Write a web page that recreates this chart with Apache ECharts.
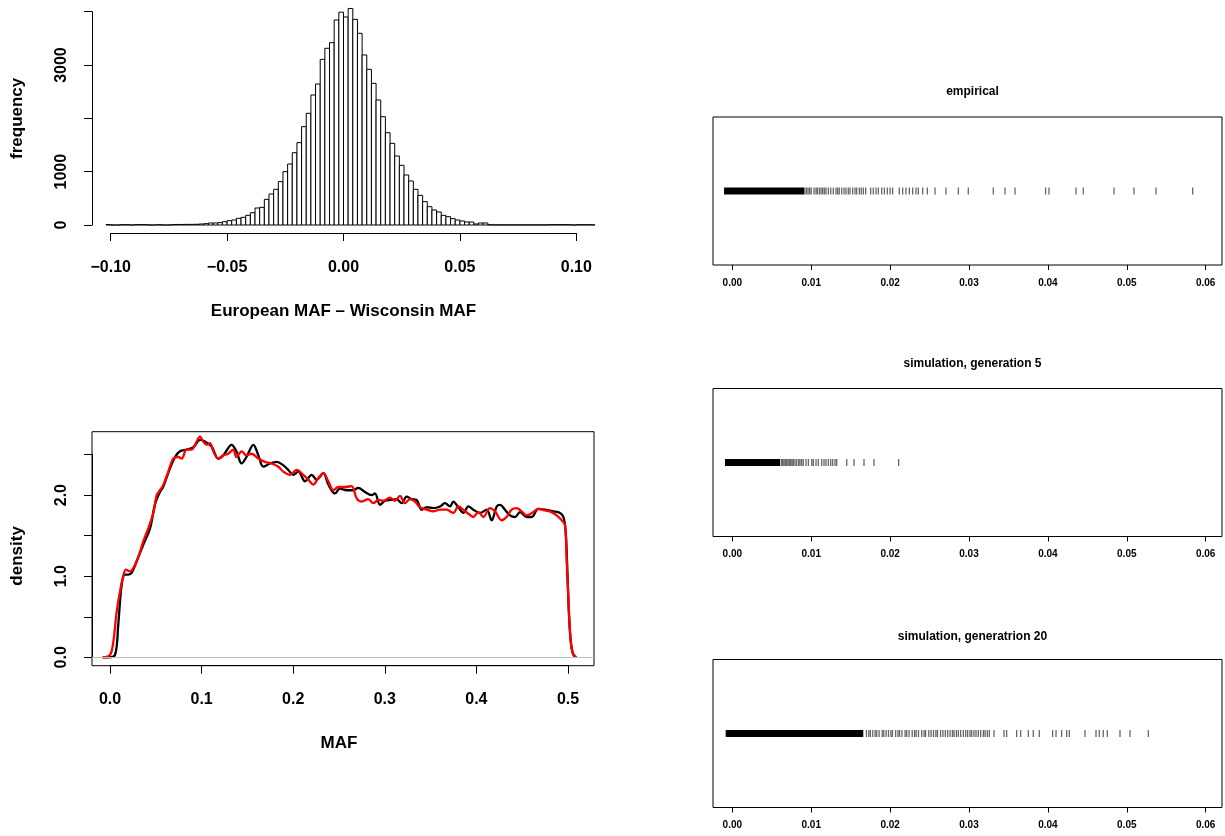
<!DOCTYPE html>
<html>
<head>
<meta charset="utf-8">
<title>MAF comparison</title>
<script src="https://cdn.jsdelivr.net/npm/echarts@6/dist/echarts.min.js"></script>
<style>
  html, body { margin: 0; padding: 0; background: #ffffff; }
  #chart { width: 1225px; height: 836px; }
</style>
</head>
<body>
<div id="chart"></div>
<script>
// ---- Histogram of MAF differences (European - Wisconsin) ----
const histBinStart = -0.102;
const histBinWidth = 0.002;
const histCounts = [
  8, 0, 0, 6, 6, 0, 6, 8, 6, 0,
  0, 6, 0, 0, 8, 10, 10, 12, 12, 14,
  19, 25, 38, 38, 44, 62, 81, 94, 125, 144,
  181, 231, 319, 331, 481, 581, 669, 813, 1000, 1144,
  1356, 1544, 1844, 2094, 2438, 2644, 3106, 3313, 3419, 3844,
  3990, 3900, 4060, 3856, 3594, 3188, 2919, 2656, 2344, 2031,
  1731, 1531, 1294, 1119, 938, 825, 669, 556, 438, 344,
  281, 244, 181, 156, 119, 94, 75, 56, 56, 19,
  38, 38, 5, 3, 3, 2, 3, 2, 2, 2,
  2, 2, 2, 3, 3, 6, 6, 6, 6, 6,
  0, 6, 6, 6, 4
];
const histYLabelled = [0, 1000, 3000];

// ---- Kernel density of MAF, two sources ----
const mafDensityObserved = [
  [-0.008, 0], [-0.002, 0], [0.0055, 0.03], [0.009, 0.40], [0.0127, 0.89],
  [0.0164, 1.02], [0.020, 1.02], [0.0237, 1.04], [0.029, 1.18], [0.0364, 1.39],
  [0.0437, 1.59], [0.049, 1.88], [0.0546, 2.04], [0.058, 2.10], [0.0655, 2.33],
  [0.071, 2.47], [0.0764, 2.54], [0.0837, 2.56], [0.091, 2.59], [0.0983, 2.68],
  [0.1037, 2.66], [0.111, 2.60], [0.1182, 2.45], [0.1237, 2.49], [0.1328, 2.62],
  [0.138, 2.54], [0.1437, 2.39], [0.149, 2.47], [0.1565, 2.62], [0.162, 2.49],
  [0.1674, 2.35], [0.1747, 2.39], [0.182, 2.41], [0.189, 2.37], [0.1947, 2.31],
  [0.200, 2.25], [0.2056, 2.29], [0.2129, 2.17], [0.2202, 2.25], [0.2256, 2.19],
  [0.233, 2.27], [0.2384, 2.13], [0.2456, 2.02], [0.251, 2.08], [0.2584, 2.06],
  [0.2656, 2.06], [0.271, 2.09], [0.278, 2.04], [0.2857, 2.00], [0.2893, 2.02],
  [0.2948, 1.88], [0.3002, 1.93], [0.3075, 1.94], [0.313, 1.95], [0.3184, 1.90],
  [0.3239, 1.98], [0.3293, 1.95], [0.3348, 1.94], [0.3402, 1.82], [0.3457, 1.85],
  [0.353, 1.84], [0.3603, 1.86], [0.3657, 1.90], [0.3712, 1.86], [0.3748, 1.92],
  [0.3803, 1.85], [0.3858, 1.78], [0.3913, 1.86], [0.3967, 1.82], [0.404, 1.78],
  [0.4112, 1.82], [0.4167, 1.69], [0.4222, 1.86], [0.4258, 1.88], [0.4312, 1.82],
  [0.4367, 1.75], [0.4422, 1.73], [0.4476, 1.79], [0.455, 1.73], [0.4603, 1.73],
  [0.4676, 1.83], [0.475, 1.82], [0.484, 1.80], [0.4913, 1.78], [0.495, 1.73],
  [0.4975, 1.55], [0.4995, 1.00], [0.501, 0.55], [0.503, 0.20], [0.5055, 0.04],
  [0.509, 0]
];
const mafDensitySimulated = [
  [-0.008, 0], [0.000, 0.03], [0.0036, 0.19], [0.0073, 0.56], [0.0109, 0.81],
  [0.0146, 1.01], [0.0175, 1.08], [0.0218, 1.06], [0.0255, 1.10], [0.031, 1.24],
  [0.0364, 1.43], [0.0418, 1.59], [0.0473, 1.78], [0.051, 2.00], [0.0546, 2.06],
  [0.058, 2.12], [0.0637, 2.29], [0.069, 2.45], [0.0746, 2.47], [0.0782, 2.45],
  [0.0837, 2.56], [0.0892, 2.56], [0.0928, 2.62], [0.0983, 2.72], [0.1019, 2.66],
  [0.1055, 2.62], [0.109, 2.64], [0.1128, 2.54], [0.1182, 2.45], [0.1237, 2.49],
  [0.129, 2.51], [0.1346, 2.56], [0.138, 2.47], [0.1437, 2.54], [0.149, 2.49],
  [0.1546, 2.51], [0.162, 2.45], [0.169, 2.41], [0.1765, 2.39], [0.1838, 2.35],
  [0.189, 2.29], [0.1965, 2.25], [0.2038, 2.31], [0.211, 2.25], [0.2165, 2.19],
  [0.222, 2.13], [0.2274, 2.21], [0.2329, 2.27], [0.2384, 2.17], [0.2438, 2.06],
  [0.2493, 2.10], [0.2566, 2.10], [0.2638, 2.11], [0.2693, 1.96], [0.2748, 1.92],
  [0.282, 1.95], [0.2875, 1.90], [0.293, 1.94], [0.2984, 1.93], [0.3057, 1.97],
  [0.311, 1.93], [0.3166, 1.99], [0.322, 1.90], [0.3275, 1.95], [0.333, 1.92],
  [0.3384, 1.85], [0.3457, 1.82], [0.353, 1.80], [0.3603, 1.82], [0.3675, 1.82],
  [0.3748, 1.78], [0.3803, 1.86], [0.3858, 1.82], [0.3913, 1.77], [0.3967, 1.73],
  [0.4022, 1.79], [0.4076, 1.73], [0.4148, 1.84], [0.4203, 1.80], [0.4276, 1.69],
  [0.433, 1.73], [0.4385, 1.82], [0.444, 1.84], [0.4494, 1.80], [0.455, 1.75],
  [0.462, 1.79], [0.4676, 1.83], [0.475, 1.81], [0.4821, 1.79], [0.4876, 1.75],
  [0.4931, 1.69], [0.4967, 1.63], [0.4985, 1.22], [0.5004, 0.73], [0.5022, 0.32],
  [0.5047, 0.07], [0.5087, 0]
];
const densityYLabelled = [0, 1, 2];

// ---- Rug plots of low-frequency MAF values ----
const rugTitles = ['empirical', 'simulation, generation 5', 'simulation, generatrion 20'];
const rugXTicks = [0, 0.01, 0.02, 0.03, 0.04, 0.05, 0.06];
// stretches so dense that the marks merge into a solid bar
const rugSolidEmpirical = [[-0.00105, 0.00909]];
const rugSolidGen5 = [[-0.00093, 0.00605]];
const rugSolidGen20 = [[-0.00084, 0.0166]];
const rugEmpirical = [
  0.0092, 0.0094, 0.0096, 0.0098, 0.0100,
  0.01036, 0.01061, 0.01078, 0.01103, 0.01124, 0.01145, 0.01166, 0.01187, 0.01217, 0.01247,
  0.01280, 0.01314, 0.01335, 0.01356, 0.01386, 0.01416, 0.01441, 0.01470, 0.01492, 0.01525,
  0.01555, 0.01576, 0.01610, 0.01635, 0.01661, 0.01690, 0.01754, 0.01787, 0.01821, 0.01851,
  0.01893, 0.01927, 0.01965, 0.01999, 0.02032, 0.02117, 0.02159, 0.02201, 0.02244, 0.02286,
  0.02328, 0.02358, 0.02413, 0.02472, 0.02569, 0.02708, 0.02865, 0.02991, 0.03308, 0.03456,
  0.03583, 0.03971, 0.04014, 0.04356, 0.04449, 0.04838, 0.05091, 0.05370, 0.05835
];
const rugGen5 = [
  0.00622, 0.00638, 0.00655, 0.00672, 0.00689, 0.00706, 0.00723, 0.00740, 0.00757, 0.00774,
  0.00795, 0.00816, 0.00841, 0.00858, 0.00879, 0.00900, 0.00934, 0.00964, 0.01006, 0.01027,
  0.01061, 0.01090, 0.01133, 0.01162, 0.01187, 0.01217, 0.01247, 0.01272, 0.01302, 0.01323,
  0.01450, 0.01542, 0.01669, 0.01796, 0.02108
];
const rugGen20 = [
  0.0170, 0.0173, 0.0175, 0.0178, 0.0181, 0.0183, 0.0186, 0.0190, 0.0192, 0.0195,
  0.0198, 0.0201, 0.0203, 0.0207, 0.0210, 0.0212, 0.0215, 0.0219, 0.0221, 0.0224,
  0.0228, 0.0231, 0.0233, 0.0236, 0.0240, 0.0243, 0.0245, 0.0249, 0.0252, 0.0255,
  0.0258, 0.0260, 0.0264, 0.0267, 0.0270, 0.0273, 0.0276, 0.0279, 0.0281, 0.0284,
  0.02865, 0.02894, 0.02928, 0.02958, 0.02983, 0.03013, 0.03034, 0.03063, 0.03089, 0.03118,
  0.03148, 0.03182, 0.03203, 0.03232, 0.03258, 0.03317, 0.03444, 0.03477, 0.03604, 0.03655,
  0.03752, 0.03815, 0.03891, 0.04060, 0.04103, 0.04174, 0.04238, 0.04272, 0.04470, 0.04610,
  0.04652, 0.04702, 0.04753, 0.04914, 0.05041, 0.05273
];

// ---- drawing ----
const FONT = 'Liberation Sans, Arial, Helvetica, sans-serif';
const INK = '#000000';

const histData = histCounts.map((c, i) => [histBinStart + i * histBinWidth, histBinStart + (i + 1) * histBinWidth, c]);

function fmtSigned(v, d) {
  return v < 0 ? '\u2212' + Math.abs(v).toFixed(d) : v.toFixed(d);
}

const hidden = { show: false };
const tickLabelStyle = { color: INK, fontFamily: FONT, fontWeight: 'bold', fontSize: 16 };
const nameStyle = { color: INK, fontFamily: FONT, fontWeight: 'bold', fontSize: 17 };
function visibleLine() { return { show: true, onZero: false, lineStyle: { color: INK, width: 1 } }; }
function outTicks(len) { return { show: true, inside: false, length: len, lineStyle: { color: INK, width: 1 } }; }

const rugGridTops = [117, 388.5, 659.5];
const rugSolid = [rugSolidEmpirical, rugSolidGen5, rugSolidGen20];
const rugMarks = [rugEmpirical, rugGen5, rugGen20];

// Panels with an R-like layout: the plotting box and the axes that carry
// ticks live on separate grids so each axis line spans only its tick range.
const grids = [
  { left: 92, top: 1, width: 509.8, height: 232 },          // 0 histogram bars
  { left: 110.7, top: 1, width: 465.6, height: 232 },       // 1 histogram x axis
  { left: 92, top: 11.7, width: 10, height: 213.3 },        // 2 histogram y axis
  { left: 92, top: 431.7, width: 502, height: 234, show: true, borderColor: INK, borderWidth: 1 }, // 3 density box
  { left: 110, top: 431.7, width: 458, height: 234 },       // 4 density x axis (0 .. 0.5)
  { left: 92, top: 454.55, width: 10, height: 202.75 }      // 5 density y axis (0 .. 2.5)
];
rugGridTops.forEach(t => grids.push({ left: 713, top: t, width: 509, height: 148, show: true, borderColor: INK, borderWidth: 1 }));

const xAxes = [
  { gridIndex: 0, type: 'value', min: -0.10803, max: 0.11096, show: false },
  {
    gridIndex: 1, type: 'value', min: -0.1, max: 0.1, interval: 0.05,
    axisLine: visibleLine(), axisTick: outTicks(8), splitLine: hidden,
    axisLabel: Object.assign({ margin: 27, formatter: v => fmtSigned(v, 2) }, tickLabelStyle),
    name: 'European MAF \u2013 Wisconsin MAF', nameLocation: 'middle', nameGap: 70, nameTextStyle: nameStyle
  },
  { gridIndex: 2, type: 'value', show: false },
  { gridIndex: 3, type: 'value', min: -0.01965, max: 0.5284, show: false },
  {
    gridIndex: 4, type: 'value', min: 0, max: 0.5, interval: 0.1,
    axisLine: visibleLine(), axisTick: outTicks(8), splitLine: hidden,
    axisLabel: Object.assign({ margin: 26, formatter: v => v.toFixed(1) }, tickLabelStyle),
    name: 'MAF', nameLocation: 'middle', nameGap: 69, nameTextStyle: nameStyle
  },
  { gridIndex: 5, type: 'value', show: false }
];
const yAxes = [
  { gridIndex: 0, type: 'value', min: -150, max: 4200, show: false },
  { gridIndex: 1, type: 'value', min: -150, max: 4200, show: false },
  {
    gridIndex: 2, type: 'value', min: 0, max: 4000, interval: 1000,
    axisLine: visibleLine(), axisTick: outTicks(8), splitLine: hidden,
    axisLabel: Object.assign({ margin: 22, rotate: 90, formatter: v => histYLabelled.includes(v) ? String(v) : '' }, tickLabelStyle),
    name: 'frequency', nameLocation: 'middle', nameGap: 66, nameTextStyle: nameStyle
  },
  { gridIndex: 3, type: 'value', min: -0.1036, max: 2.7817, show: false },
  { gridIndex: 4, type: 'value', min: 0, max: 1, show: false },
  {
    gridIndex: 5, type: 'value', min: 0, max: 2.5, interval: 0.5,
    axisLine: visibleLine(), axisTick: outTicks(8), splitLine: hidden,
    axisLabel: Object.assign({ margin: 22, rotate: 90, formatter: v => densityYLabelled.includes(v) ? v.toFixed(1) : '' }, tickLabelStyle),
    name: 'density', nameLocation: 'middle', nameGap: 66, nameTextStyle: nameStyle
  }
];
rugGridTops.forEach((t, k) => {
  xAxes.push({
    gridIndex: 6 + k, type: 'value', min: -0.00245, max: 0.06207,
    axisLine: { show: false, onZero: false },
    axisTick: { show: true, length: 5, customValues: rugXTicks, lineStyle: { color: INK } },
    splitLine: hidden,
    axisLabel: { margin: 13, customValues: rugXTicks, formatter: v => v.toFixed(2), color: INK, fontFamily: FONT, fontWeight: 'bold', fontSize: 10 }
  });
  yAxes.push({ gridIndex: 6 + k, type: 'value', min: -1, max: 1, show: false });
});

const series = [
  {
    type: 'custom', xAxisIndex: 0, yAxisIndex: 0, silent: true,
    data: histData,
    renderItem: (params, api) => {
      const p0 = api.coord([api.value(0), api.value(2)]);
      const p1 = api.coord([api.value(1), 0]);
      return {
        type: 'rect',
        shape: { x: p0[0], y: p0[1], width: p1[0] - p0[0], height: p1[1] - p0[1] },
        style: { fill: '#ffffff', stroke: INK, lineWidth: 1 }
      };
    }
  },
  {
    type: 'line', xAxisIndex: 3, yAxisIndex: 3, data: mafDensityObserved,
    showSymbol: false, smooth: 0.35, silent: true,
    lineStyle: { color: '#000000', width: 2.3 },
    markLine: {
      silent: true, symbol: 'none', label: { show: false },
      lineStyle: { color: '#bebebe', type: 'solid', width: 1 },
      data: [{ yAxis: 0 }]
    },
    z: 3
  },
  {
    type: 'line', xAxisIndex: 3, yAxisIndex: 3, data: mafDensitySimulated,
    showSymbol: false, smooth: 0.35, silent: true,
    lineStyle: { color: '#ff0000', width: 2.3 },
    z: 4
  }
];
rugGridTops.forEach((t, k) => {
  series.push({
    type: 'custom', xAxisIndex: 6 + k, yAxisIndex: 6 + k, silent: true,
    data: rugSolid[k],
    renderItem: (params, api) => {
      const a = api.coord([api.value(0), 0]);
      const b = api.coord([api.value(1), 0]);
      return { type: 'rect', shape: { x: a[0], y: a[1] - 3.5, width: b[0] - a[0], height: 7 }, style: { fill: INK } };
    }
  });
  series.push({
    type: 'custom', xAxisIndex: 6 + k, yAxisIndex: 6 + k, silent: true,
    data: rugMarks[k].map(v => [v]),
    renderItem: (params, api) => {
      const p = api.coord([api.value(0), 0]);
      return {
        type: 'line',
        shape: { x1: p[0], y1: p[1] - 3.5, x2: p[0], y2: p[1] + 3.5 },
        style: { stroke: 'rgba(0,0,0,0.6)', lineWidth: 1.3 }
      };
    }
  });
});

const titleTops = [81, 353, 626];
const chart = echarts.init(document.getElementById('chart'), null, { renderer: 'canvas' });
chart.setOption({
  backgroundColor: '#ffffff',
  animation: false,
  title: rugTitles.map((txt, k) => ({
    text: txt, left: 967.5, top: titleTops[k], textAlign: 'center',
    textStyle: { color: INK, fontFamily: FONT, fontWeight: 'bold', fontSize: 12 }
  })),
  grid: grids,
  xAxis: xAxes,
  yAxis: yAxes,
  series: series
});
</script>
</body>
</html>
